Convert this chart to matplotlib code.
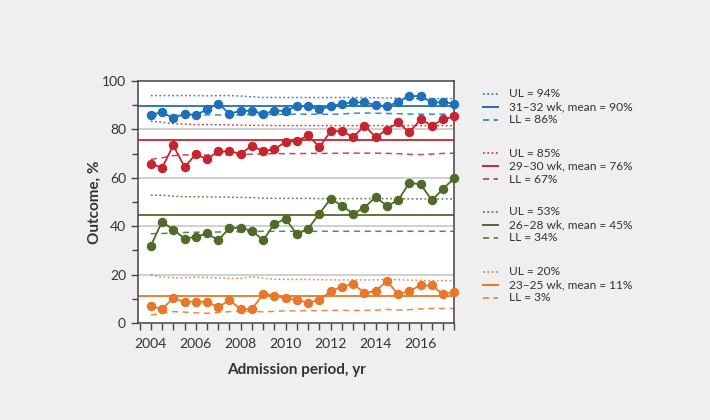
import numpy as np
import matplotlib
matplotlib.use("Agg")
from matplotlib import pyplot as plt
from matplotlib.lines import Line2D

plt.rcParams['font.family'] = ['Lato', 'DejaVu Sans']

# admission periods, half-year steps
years = np.arange(2004, 2018, 0.5)

# 31-32 wk
blue = [86.0, 87.2, 84.6, 86.5, 85.9, 88.3, 90.7, 86.5, 87.7, 87.7, 86.5, 87.7, 87.7, 89.7,
        89.5, 88.3, 89.5, 90.7, 91.2, 91.2, 90.1, 89.5, 91.4, 93.8, 93.8, 91.2, 91.2, 90.7]
blue_ul = [94.0, 94.0, 94.0, 94.0, 94.0, 93.9, 94.0, 94.0, 93.8, 93.5, 93.2, 93.2, 93.2, 93.2,
           93.2, 93.2, 93.2, 93.2, 93.2, 93.2, 93.1, 93.0, 93.0, 92.7, 92.7, 92.7, 92.8, 92.8]
blue_ll = [85.8, 85.8, 85.9, 85.9, 85.9, 86.0, 86.0, 85.9, 86.0, 86.1, 86.2, 86.2, 86.2, 86.3,
           86.3, 86.3, 86.2, 86.4, 86.7, 86.8, 86.7, 86.6, 86.5, 86.4, 86.3, 86.3, 86.3, 86.3]
blue_mean = 89.6

# 29-30 wk
red = [65.9, 64.1, 73.4, 64.5, 69.7, 67.8, 70.9, 70.9, 70.0, 73.3, 70.9, 72.0, 74.8, 75.3,
       77.5, 72.7, 79.3, 79.3, 76.8, 81.6, 76.8, 79.9, 82.9, 78.8, 84.2, 81.6, 84.2, 85.4]
red_ul = [83.4, 83.0, 82.4, 82.2, 82.0, 82.0, 82.0, 81.9, 81.8, 81.7, 81.7, 81.6, 81.6, 81.6,
          81.6, 81.6, 81.6, 81.6, 81.6, 81.6, 81.6, 81.6, 81.6, 81.6, 81.6, 81.6, 81.6, 81.6]
red_ll = [67.6, 68.3, 69.2, 69.5, 69.4, 69.4, 69.5, 69.6, 69.6, 69.8, 69.9, 70.0, 70.0, 70.0,
          70.1, 70.1, 70.1, 70.2, 70.2, 70.2, 70.2, 70.1, 70.0, 69.7, 69.6, 69.8, 70.1, 70.2]
red_mean = 75.7

# 26-28 wk
green = [31.9, 41.8, 38.6, 34.9, 35.6, 37.0, 34.2, 39.3, 39.3, 38.1, 34.2, 41.1, 42.9, 36.7,
         39.0, 45.2, 51.4, 48.4, 45.2, 47.7, 52.1, 48.4, 50.7, 58.0, 57.3, 50.7, 55.5, 59.9]
green_ul = [52.8, 52.8, 52.4, 52.2, 52.2, 52.1, 52.1, 52.0, 51.9, 51.8, 51.6, 51.5, 51.5, 51.5,
            51.5, 51.4, 51.4, 51.4, 51.4, 51.4, 51.4, 51.4, 51.4, 51.3, 51.3, 51.3, 51.3, 51.3]
green_ll = [36.9, 37.0, 37.2, 37.4, 37.5, 37.6, 37.6, 37.7, 37.7, 37.8, 37.9, 37.9, 37.9, 37.9,
            37.9, 37.9, 37.9, 37.9, 37.9, 37.9, 37.9, 37.9, 37.9, 37.9, 37.9, 37.9, 37.9, 37.9]
green_mean = 44.8

# 23-25 wk
orange = [7.0, 5.8, 10.2, 8.8, 8.8, 8.8, 6.5, 9.5, 5.6, 5.8, 12.0, 11.3, 10.2, 9.5,
          8.4, 9.5, 13.2, 15.0, 16.1, 12.5, 13.2, 17.3, 11.8, 13.3, 15.5, 15.5, 11.8, 12.9]
orange_ul = [19.8, 19.0, 18.7, 18.7, 18.9, 18.8, 18.6, 18.5, 18.4, 19.2, 18.5, 18.1, 18.0, 18.0,
             18.0, 17.9, 17.8, 17.8, 17.8, 17.8, 17.8, 18.1, 17.9, 17.7, 17.6, 17.5, 17.5, 17.5]
orange_ll = [3.3, 4.0, 4.7, 4.5, 4.2, 4.0, 4.3, 4.7, 4.7, 4.8, 4.6, 4.8, 5.0, 5.0,
             5.1, 5.1, 5.2, 5.2, 5.2, 5.2, 5.3, 5.6, 5.3, 5.5, 5.8, 6.0, 6.0, 6.0]
orange_mean = 11.3

legend_labels = [
    ["UL = 94%", "31\u201332 wk, mean = 90%", "LL = 86%"],
    ["UL = 85%", "29\u201330 wk, mean = 76%", "LL = 67%"],
    ["UL = 53%", "26\u201328 wk, mean = 45%", "LL = 34%"],
    ["UL = 20%", "23\u201325 wk, mean = 11%", "LL = 3%"],
]

c_blue = '#1f70b8'
c_red = '#c62530'
c_green = '#4f6b2b'
c_orange = '#e8772a'
txt = '#333333'

fig = plt.figure(figsize=(7.1, 4.2), dpi=100)
fig.patch.set_facecolor('#eeefee')
ax = fig.add_axes([0.194, 0.231, 0.446, 0.576])
ax.set_facecolor('white')

for v in [20, 40, 60, 80]:
    ax.axhline(v, color='#cdcdcd', lw=1.3, zorder=0)

series = [
    (blue, blue_ul, blue_ll, blue_mean, c_blue),
    (red, red_ul, red_ll, red_mean, c_red),
    (green, green_ul, green_ll, green_mean, c_green),
    (orange, orange_ul, orange_ll, orange_mean, c_orange),
]
for vals, ul, ll, mean, c in series:
    ax.plot(years, ul, color=c, lw=1.1, ls=(0, (1.2, 1.6)), alpha=0.85, zorder=2)
    ax.plot(years, ll, color=c, lw=1.1, ls=(0, (4, 3)), alpha=0.85, zorder=2)
    ax.axhline(mean, color=c, lw=1.3, zorder=2)
    ax.plot(years, vals, color=c, lw=1.3, marker='o', ms=5.8, clip_on=False, zorder=4)

ax.set_xlim(2003.42, 2017.5)
ax.set_ylim(0, 100)
ax.set_xticks(np.arange(2004, 2017, 2))
ax.set_xticks(np.arange(2003.5, 2017.6, 0.5), minor=True)
ax.set_yticks(np.arange(0, 101, 20))
ax.set_yticks(np.arange(10, 100, 20), minor=True)
ax.tick_params(axis='both', which='both', color='#444444', width=1, labelsize=10,
               labelcolor=txt, length=5)
ax.tick_params(axis='x', which='both', pad=6)
ax.tick_params(axis='y', which='minor', length=4)
for s in ax.spines.values():
    s.set_color('#444444')
    s.set_linewidth(1.1)

ax.set_xlabel("Admission period, yr", fontsize=11, fontweight='bold', color=txt, labelpad=9)
ax.set_ylabel("Outcome, %", fontsize=11, fontweight='bold', color=txt, labelpad=0)

# legend drawn row by row
colors = [c_blue, c_red, c_green, c_orange]
group_top = [93.5, 153.2, 211.7, 271.7]
styles = [(0, (1.2, 1.6)), '-', (0, (4, 3))]
for g, c in enumerate(colors):
    for r in range(3):
        y = 1 - (group_top[g] + r * 13) / 420
        fig.add_artist(Line2D([483 / 710, 498 / 710], [y, y], color=c, lw=1.4 if r == 1 else 1.1,
                              ls=styles[r], transform=fig.transFigure))
        fig.text(509 / 710, y, legend_labels[g][r], fontsize=8.6, color=txt, va='center', ha='left')

fig.savefig('out.png', dpi=100, facecolor=fig.get_facecolor())
